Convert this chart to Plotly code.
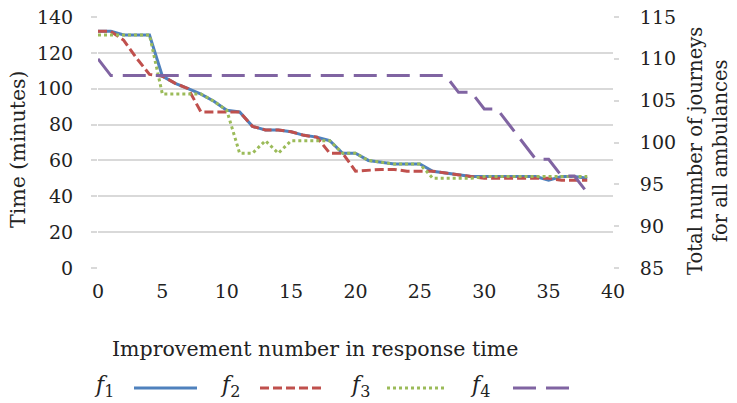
import plotly.graph_objects as go

x_vals = list(range(39))
f1 = [132, 132, 130, 130, 130, 107, 103, 100, 97, 93,
      88, 87, 79, 77, 77, 76, 74, 73, 71, 64,
      64, 60, 59, 58, 58, 58, 54, 53, 52, 51,
      51, 51, 51, 51, 51, 49, 51, 51, 50]
f2 = [132, 132, 127, 117, 108, 107, 103, 100, 87, 87,
      87, 87, 79, 77, 77, 76, 74, 73, 64, 64,
      54, 54.5, 55, 55, 54, 54, 54, 53, 52, 51,
      50, 50, 50, 50, 50, 50, 49, 49, 49]
f3 = [130, 130, 130, 130, 130, 97, 97, 97, 97, 93,
      88, 64, 64, 71, 64, 71, 71, 71, 71, 64,
      64, 60, 59, 58, 58, 58, 50, 50, 50, 50,
      51, 51, 51, 51, 51, 51, 51, 51, 51]
f4 = [110, 108, 108, 108, 108, 108, 108, 108, 108, 108,
      108, 108, 108, 108, 108, 108, 108, 108, 108, 108,
      108, 108, 108, 108, 108, 108, 108, 108, 106, 106,
      104, 104, 102, 100, 98, 98, 96, 96, 94]

x_ticks = [0, 5, 10, 15, 20, 25, 30, 35, 40]
left_ticks = [0, 20, 40, 60, 80, 100, 120, 140]
right_ticks = [85, 90, 95, 100, 105, 110, 115]

series_names = ["f1", "f2", "f3", "f4"]
colors = ["#4F81BD", "#C0504D", "#9BBB59", "#8064A2"]
dashes = ["solid", "9px,4px", "3px,3px", "23px,10px"]

FONT = "DejaVu Serif"
W, H = 737, 403
L, R, T, B = 98, 613, 17, 268

def px(xp):
    return (xp - L) / (R - L)

def py(yp):
    return (B - yp) / (B - T)

fig = go.Figure()
for name, vals, c, d in zip(series_names[:3], [f1, f2, f3], colors[:3], dashes[:3]):
    fig.add_trace(go.Scatter(x=x_vals, y=vals, mode="lines", name=name,
                             line=dict(color=c, width=3, dash=d), yaxis="y"))
fig.add_trace(go.Scatter(x=x_vals, y=f4, mode="lines", name="f4",
                         line=dict(color=colors[3], width=3, dash=dashes[3]), yaxis="y2"))

tf = dict(family=FONT, size=19, color="#222222")
fig.update_layout(
    width=W, height=H,
    margin=dict(l=L, r=W - R, t=T, b=H - B, autoexpand=False),
    paper_bgcolor="white", plot_bgcolor="white",
    showlegend=False,
    font=dict(family=FONT, size=19, color="#222222"),
    xaxis=dict(range=[0, 40], tickvals=x_ticks, showgrid=False, zeroline=False,
               showline=False, ticks="", ticklabelstandoff=10, tickfont=tf),
    yaxis=dict(range=[0, 140], tickvals=left_ticks, showgrid=True,
               gridcolor="#D9D9D9", gridwidth=1.5, zeroline=False, showline=False,
               ticks="outside", ticklen=6, tickcolor="#D9D9D9", tickwidth=1.5,
               ticklabelstandoff=14, tickfont=tf),
    yaxis2=dict(range=[85, 115], tickvals=right_ticks, overlaying="y", side="right",
                showgrid=False, zeroline=False, showline=False,
                ticks="outside", ticklen=5, tickcolor="#D9D9D9", tickwidth=1.5,
                ticklabelstandoff=17, tickfont=tf),
)

annotations = [
    dict(text="Time (minutes)", x=px(18), y=py(149), textangle=-90,
         font=dict(family=FONT, size=20.5, color="#222222")),
    dict(text="Improvement number in response time", x=px(315), y=py(349),
         font=dict(family=FONT, size=20.5, color="#222222")),
    dict(text="Total number of journeys<br>for all ambulances", x=px(708), y=py(151),
         textangle=-90, font=dict(family=FONT, size=19.5, color="#222222")),
]
for a in annotations:
    a.update(xref="paper", yref="paper", showarrow=False,
             xanchor="center", yanchor="middle")

legend_text_x = [92, 218, 348, 468]
legend_line_x = [(134, 197), (260, 323), (387, 446), (513, 570)]
for i, name in enumerate(series_names):
    annotations.append(dict(
        text="<i>f</i><sub><span style='font-size:16px'>%s</span></sub>" % name[1],
        x=px(legend_text_x[i]), y=py(386),
        xref="paper", yref="paper", showarrow=False, xanchor="left", yanchor="middle",
        font=dict(family=FONT, size=22, color="#222222")))
fig.update_layout(annotations=annotations)

shapes = []
for i in range(4):
    x0, x1 = legend_line_x[i]
    shapes.append(dict(type="line", xref="paper", yref="paper",
                       x0=px(x0), x1=px(x1), y0=py(388), y1=py(388),
                       line=dict(color=colors[i], width=3, dash=dashes[i])))
fig.update_layout(shapes=shapes)

fig.write_html("out.html")
